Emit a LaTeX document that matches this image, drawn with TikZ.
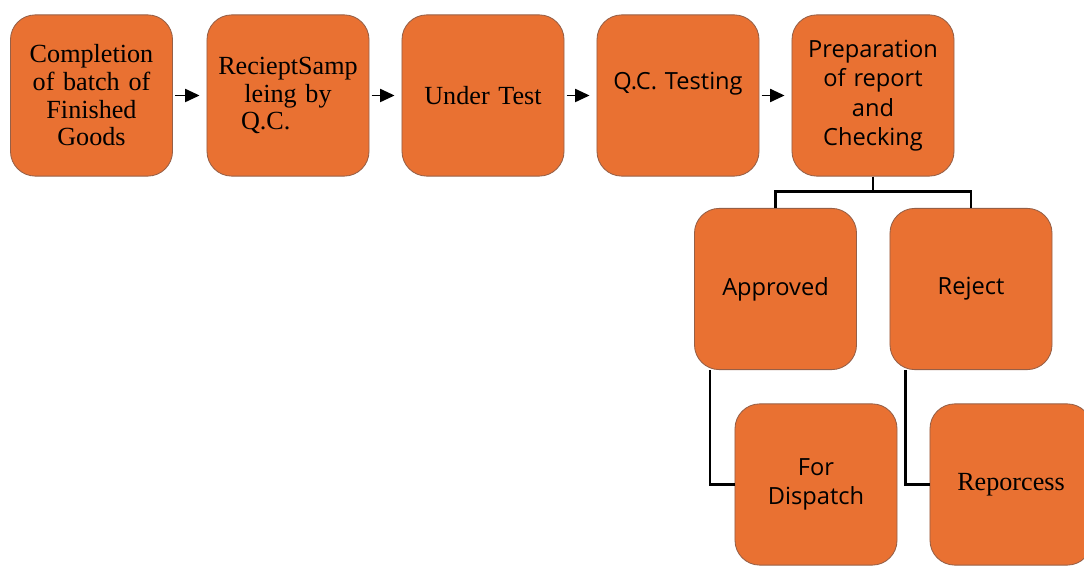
\documentclass[tikz,border=0pt]{standalone}
\usepackage{fontspec}
\setmainfont{Liberation Serif}
\newfontfamily\aptosfont{Open Sans}
\usepackage{xcolor}
\usetikzlibrary{arrows.meta,positioning}
\definecolor{qcorange}{RGB}{233,113,50}
\definecolor{qcedge}{RGB}{150,95,70}

\begin{document}
\begin{tikzpicture}[x=0.025cm,y=0.025cm,
    box/.style={rectangle,rounded corners=0.62cm,draw=qcedge,line width=0.6pt,fill=qcorange,minimum width=4.05cm,minimum height=4.03cm,align=center,text width=3.7cm},
    serif/.style={box,font=\fontsize{18.6}{19.7}\selectfont},
    sans/.style={box,font=\aptosfont\fontsize{16.8}{21}\selectfont},
    arrow/.style={-{Triangle[length=0.36cm,width=0.33cm]},line width=0.9pt,shorten <=1.5pt,shorten >=5pt},
    link/.style={line width=2pt}
  ]
    \clip (0,0) rectangle (1084,565);
    \node[serif] (batch) at (91.5,469.5) {Completion\\of batch of\\Finished\\Goods};
    \node[serif] (sampling) at (288,469.5) {RecieptSamp\\leing by\\Q.C.\hspace*{1.7em}\mbox{}};
    \node[serif] (undertest) at (483,469.5) {Under Test};
    \node[sans] (testing) at (678,469.5) {Q.C. Testing\\~};
    \node[sans] (report) at (873,469.5) {Preparation\\of report\\and\\Checking};
    \node[sans] (approved) at (775.5,276) {Approved};
    \node[sans] (reject) at (971,276) {Reject};
    \node[sans] (dispatch) at (816,80.5) {For\\Dispatch};
    \node[serif] (reprocess) at (1011,80.5) {Reporcess};
    \draw[arrow] (batch) -- (sampling);
    \draw[arrow] (sampling) -- (undertest);
    \draw[arrow] (undertest) -- (testing);
    \draw[arrow] (testing) -- (report);
    % branches below the report
    \draw[link] (report.south) -- ++(0,-15) -| (approved.north);
    \draw[link] (report.south) -- ++(0,-15) -| (reject.north);
    \draw[link] ([xshift=0.4cm]approved.south west) |- (dispatch.west);
    \draw[link] ([xshift=0.4cm]reject.south west) |- (reprocess.west);
  \end{tikzpicture}
\end{document}
